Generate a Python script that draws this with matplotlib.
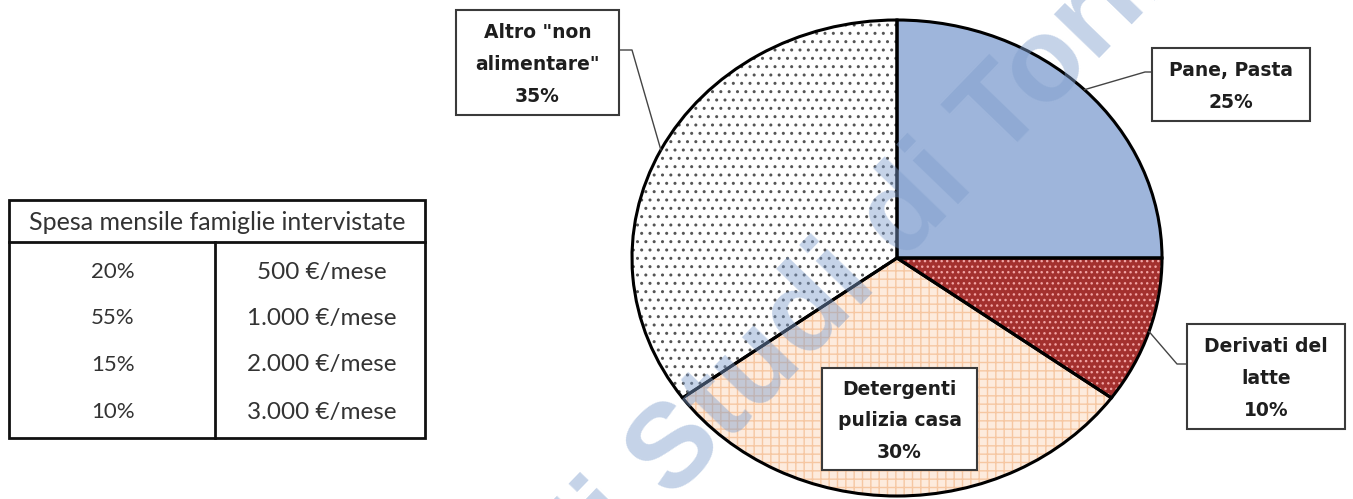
import numpy as np
import matplotlib
matplotlib.use('Agg')
import matplotlib.pyplot as plt
from matplotlib.patches import Rectangle

# dati del grafico a torta
categorie = ['Pane, Pasta', 'Derivati del\nlatte', 'Detergenti\npulizia casa', 'Altro "non\nalimentare"']
percentuali = [25, 10, 30, 35]
colori = ['#9EB5DB', '#A3302E', '#FDEBDD', '#FFFFFF']
tratteggi = ['', '...', '++', '..']
colori_tratteggio = ['#9EB5DB', '#F2A3A3', '#F6C7A2', '#555555']

# dati della tabella
titolo_tabella = 'Spesa mensile famiglie intervistate'
quote_famiglie = ['20%', '55%', '15%', '10%']
spesa_mensile = ['500 €/mese', '1.000 €/mese', '2.000 €/mese', '3.000 €/mese']

W, H = 1353, 499
fig = plt.figure(figsize=(W / 100, H / 100), dpi=100)
plt.rcParams['hatch.linewidth'] = 1.0

# torta (leggermente ellittica come nell'originale)
cx, cy, rx, ry = 897, 258, 265, 238
pax = fig.add_axes([(cx - rx) / W, 1 - (cy + ry) / H, 2 * rx / W, 2 * ry / H])
wedges, _ = pax.pie(percentuali, startangle=90, counterclock=False, colors=colori,
                    wedgeprops=dict(linewidth=0))
for w, h, hc in zip(wedges, tratteggi, colori_tratteggio):
    w.set_hatch(h)
    w.set_edgecolor(hc)
    w.set_clip_on(False)
bordi, _ = pax.pie(percentuali, startangle=90, counterclock=False,
                   wedgeprops=dict(fill=False, edgecolor='black', linewidth=2.2))
for w in bordi:
    w.set_clip_on(False)
pax.set_aspect('auto')
pax.set_xlim(-1, 1)
pax.set_ylim(-1, 1)
pax.axis('off')

# asse in pixel per etichette, tabella e filigrana
ax = fig.add_axes([0, 0, 1, 1], zorder=2)
ax.set_xlim(0, W)
ax.set_ylim(H, 0)
ax.axis('off')
ax.patch.set_visible(False)

# angoli medi degli spicchi -> punto sul bordo
angoli = []
a = 90
for p in percentuali:
    angoli.append(a - p * 3.6 / 2)
    a -= p * 3.6
bordo = [(cx + rx * np.cos(np.radians(t)), cy - ry * np.sin(np.radians(t))) for t in angoli]

box_lbl = [  # x0, y0, x1, y1, gomito
    (1152, 48, 1310, 121, (1145, 72)),
    (1187, 324, 1345, 429, (1177, 364)),
    (822, 368, 977, 470, None),
    (456, 10, 619, 115, (632, 50)),
]
for i, (x0, y0, x1, y1, gom) in enumerate(box_lbl):
    ax.add_patch(Rectangle((x0, y0), x1 - x0, y1 - y0, facecolor='white',
                           edgecolor='#3A3A3A', linewidth=1.5, zorder=3))
    testo = categorie[i] + '\n' + str(percentuali[i]) + '%'
    ax.text((x0 + x1) / 2, (y0 + y1) / 2 + 2, testo, ha='center', va='center',
            fontsize=13.5, fontweight='bold', color='#1E1E1E', linespacing=1.85,
            family='DejaVu Sans', zorder=4)
    if gom is not None:
        xs = x1 if gom[0] > x1 else x0
        ax.plot([xs, gom[0], bordo[i][0]], [gom[1], gom[1], bordo[i][1]],
                color='#444444', linewidth=1.0, zorder=2)

# tabella
tx0, tx1, ty0, ty1, th, tv = 9, 425, 200, 438, 242, 215
ax.add_patch(Rectangle((tx0, ty0), tx1 - tx0, ty1 - ty0, fill=False,
                       edgecolor='#111111', linewidth=2.0))
ax.plot([tx0, tx1], [th, th], color='#111111', linewidth=2.0)
ax.plot([tv, tv], [th, ty1], color='#111111', linewidth=2.0)
ax.text((tx0 + tx1) / 2, 222, titolo_tabella, ha='center', va='center',
        fontsize=18, family='Lato', color='#333333')
righe_y = [272, 318, 365, 412]
for q, s, yy in zip(quote_famiglie, spesa_mensile, righe_y):
    ax.text(113, yy, q, ha='center', va='center', fontsize=16, family='Lato', color='#333333')
    ax.text(322, yy, s, ha='center', va='center', fontsize=17.5, family='Lato', color='#333333')

# filigrana
ax.text(618, 512, 'Università degli Studi di Torino', rotation=46, rotation_mode='anchor',
        ha='center', va='center', fontsize=86, fontweight='bold', family='Liberation Sans',
        color='#7F9ECC', alpha=0.45, zorder=10, clip_on=True)

fig.savefig('out.png', dpi=100)
